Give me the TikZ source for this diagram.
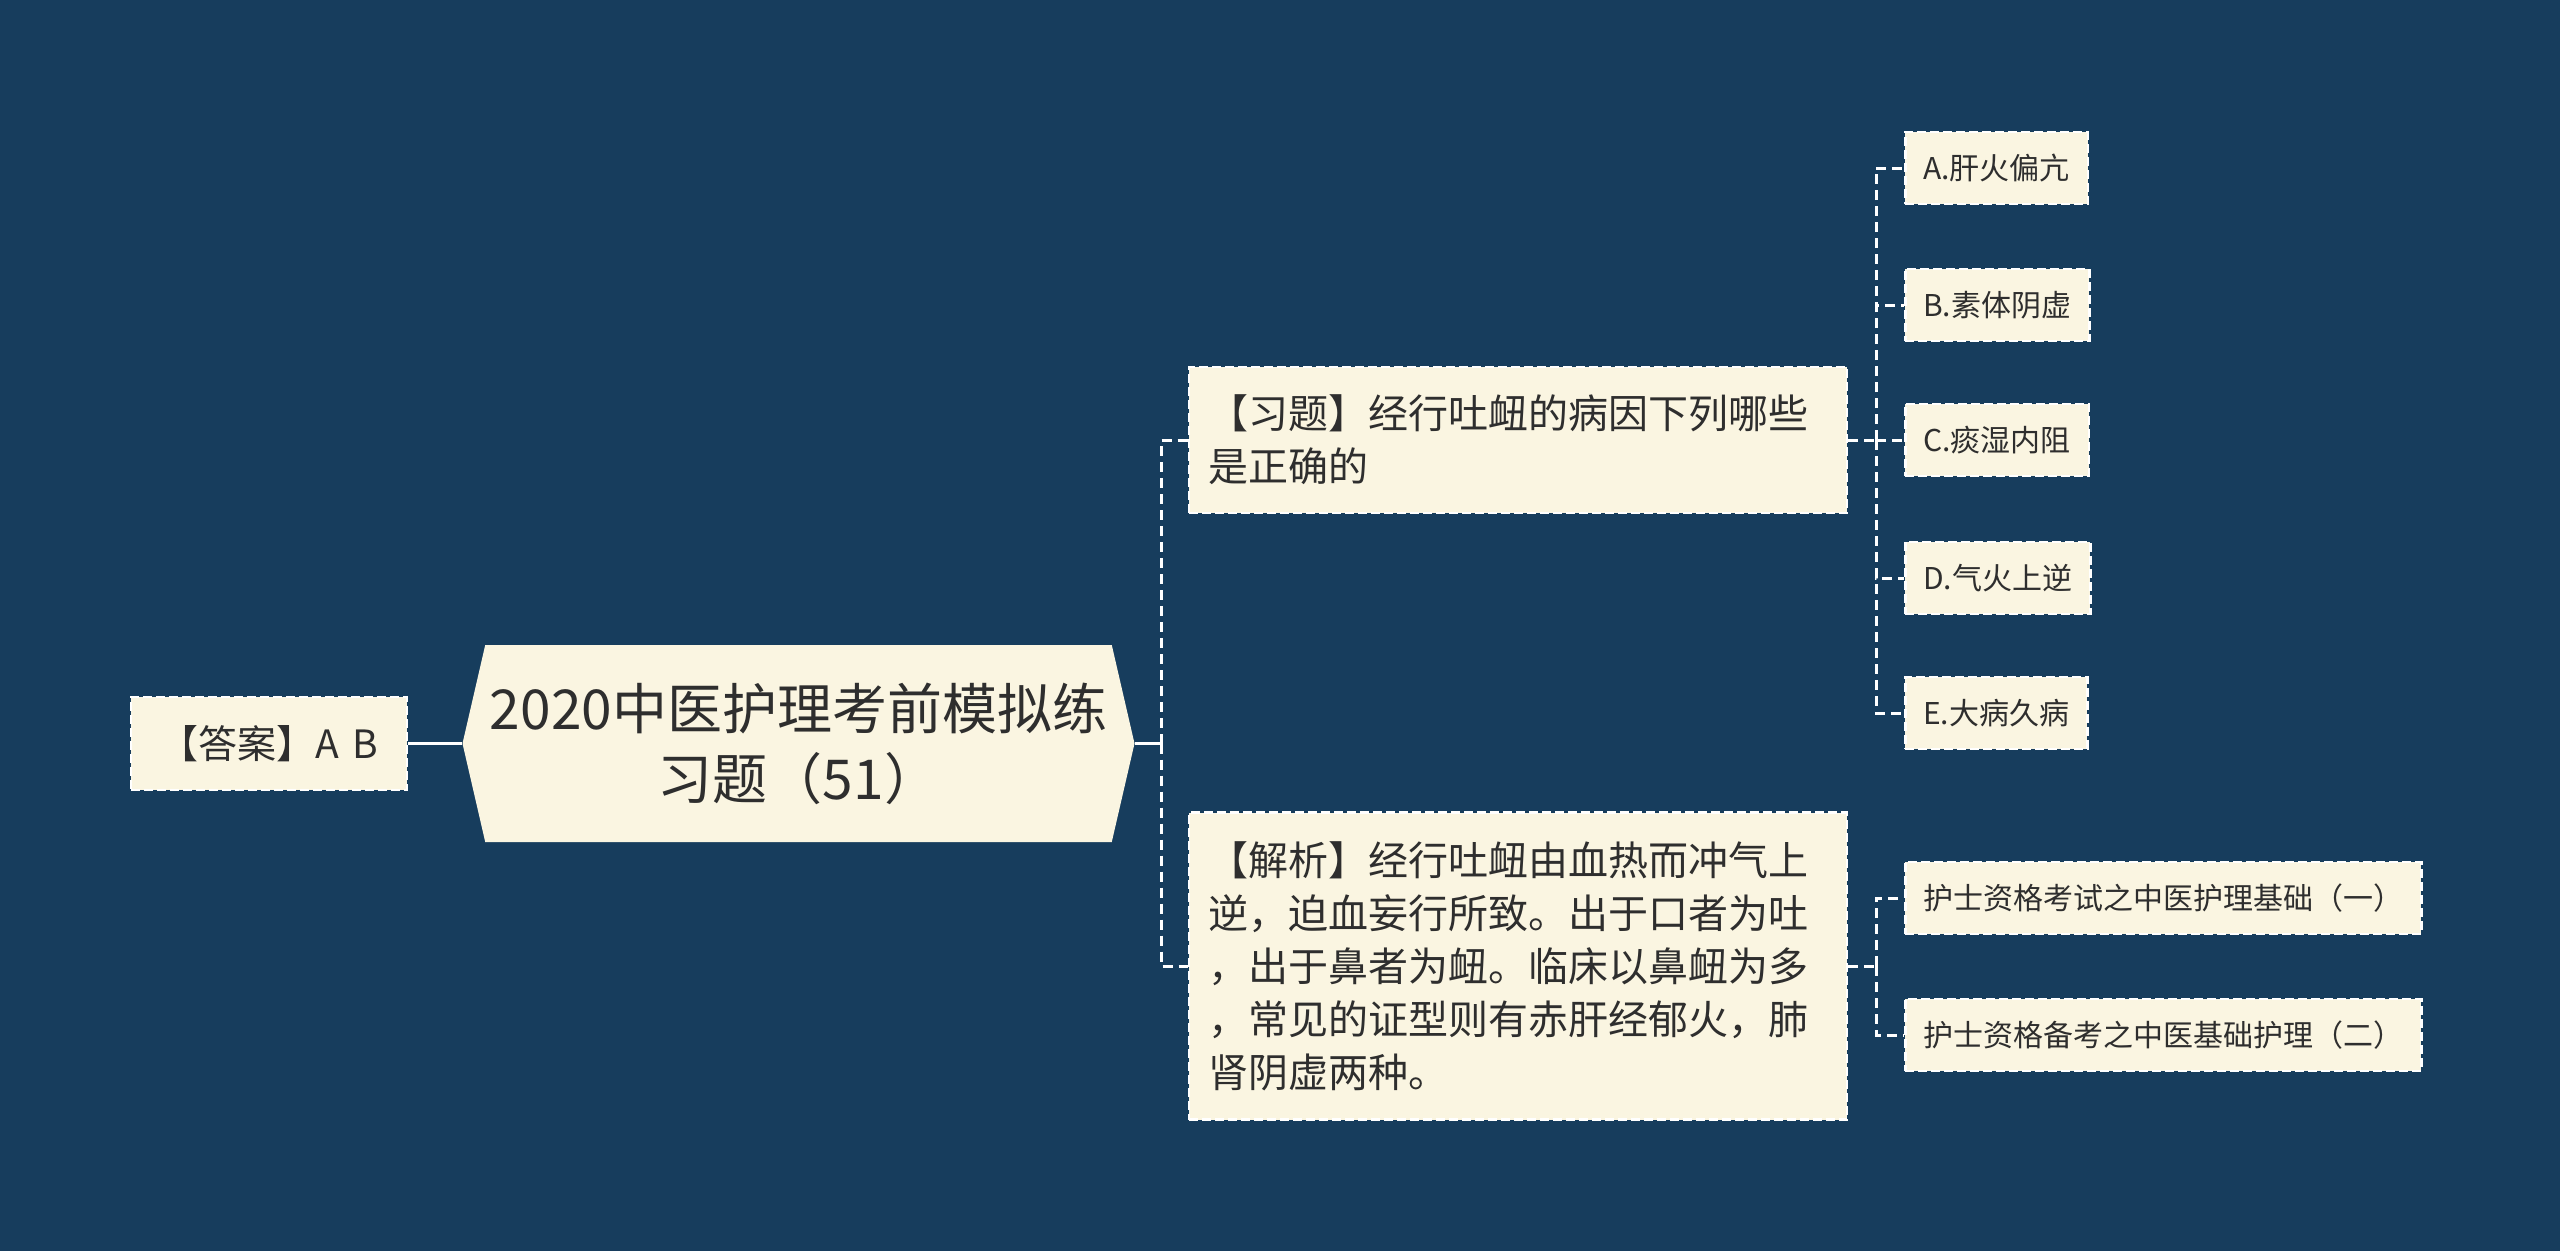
\documentclass[tikz,border=0pt]{standalone}
\usepackage{fontspec}
\newfontfamily\cjk{Noto Sans CJK SC}
\usetikzlibrary{positioning, shapes.symbols}

\definecolor{bgnavy}{HTML}{173D5D}
\definecolor{cream}{HTML}{FAF5E1}
\definecolor{ink}{HTML}{2E2E2E}

\tikzset{
  rootbox/.style={shape=signal, signal to=east and west, signal pointer angle=154,
    fill=cream, text=ink, align=center, minimum width=672pt, minimum height=197pt,
    inner sep=0pt, font=\cjk\fontsize{55}{70}\selectfont},
  answerbox/.style={draw=white, dash pattern=on 9pt off 4pt, line width=2.5pt, fill=cream,
    text=ink, minimum width=276pt, minimum height=93pt, inner sep=0pt,
    font=\cjk\fontsize{39}{44}\selectfont},
  textbox/.style={draw=white, dash pattern=on 9pt off 4pt, line width=2.5pt, fill=cream,
    text=ink, align=left, text width=620pt, inner xsep=19pt, inner ysep=0pt,
    font=\cjk\fontsize{40}{53}\selectfont},
  leafbox/.style={draw=white, dash pattern=on 9pt off 4pt, line width=2.5pt, fill=cream,
    text=ink, anchor=west, minimum height=72pt, inner xsep=18pt, inner ysep=0pt,
    font=\cjk\fontsize{30}{36}\selectfont},
  trunk/.style={draw=white, line width=3.5pt},
  branch/.style={draw=white, line width=3pt, dash pattern=on 10pt off 6pt}
}

\begin{document}
\begin{tikzpicture}[x=1pt, y=-1pt]
    \fill[bgnavy] (0,0) rectangle (2560,1251);

    % main topic and the answer on its left
    \node[rootbox] (root) at (798.5,743.5) {2020中医护理考前模拟练\\习题（51）};
    \node[answerbox] (answer) [left of=root, node distance=529.5pt] {【答案】A\,\,B};

    % question and analysis
    \node[textbox, minimum height=146pt] (question) at (1518,440)
        {【习题】经行吐衄的病因下列哪些\\是正确的};
    \node[textbox, minimum height=307pt] (analysis) [below of=question, node distance=526pt]
        {【解析】经行吐衄由血热而冲气上\\逆，迫血妄行所致。出于口者为吐\\，出于鼻者为衄。临床以鼻衄为多\\，常见的证型则有赤肝经郁火，肺\\肾阴虚两种。};

    % choices
    \node[leafbox] (optA) at (1904,168) {A.肝火偏亢};
    \node[leafbox] (optB) at (1904,305) {B.素体阴虚};
    \node[leafbox] (optC) at (1904,440) {C.痰湿内阻};
    \node[leafbox] (optD) at (1904,578) {D.气火上逆};
    \node[leafbox] (optE) at (1904,713) {E.大病久病};

    % related articles
    \node[leafbox] (relA) at (1904,898) {护士资格考试之中医护理基础（一）};
    \node[leafbox] (relB) at (1904,1035) {护士资格备考之中医基础护理（二）};

    \coordinate (rootfork) at (1161,743.5);
    \coordinate (qfork) at (1876,440);
    \coordinate (afork) at (1876,966);

    \draw[trunk] (answer.east) -- (root.west);
    \draw[trunk] (root.east) -- (rootfork);
    \draw[branch] (rootfork) |- (question.west);
    \draw[branch] (rootfork) |- (analysis.west);

    \draw[branch] (question.east) -- (qfork);
    \foreach \opt in {optA, optB, optC, optD, optE}
        \draw[branch] (qfork) |- (\opt.west);

    \draw[branch] (analysis.east) -- (afork);
    \foreach \rel in {relA, relB}
        \draw[branch] (afork) |- (\rel.west);
\end{tikzpicture}
\end{document}
